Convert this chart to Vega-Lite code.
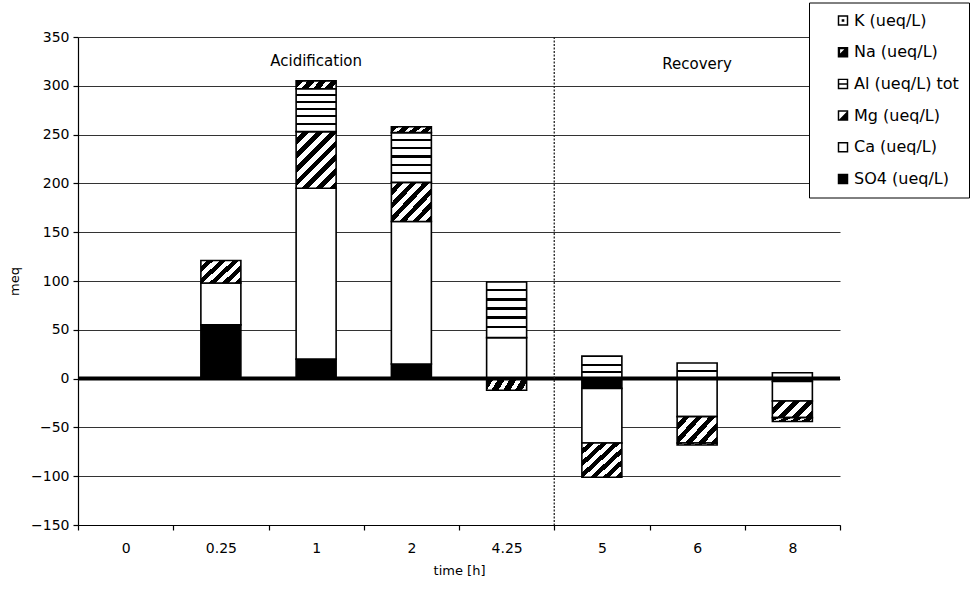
{
  "$schema": "https://vega.github.io/schema/vega-lite/v6.json",
  "width": 762,
  "height": 488,
  "autosize": "none",
  "padding": {"left": 78, "top": 37, "right": 133, "bottom": 65},
  "background": "white",
  "config": {
    "font": "DejaVu Sans",
    "view": {"stroke": null},
    "axis": {"labelFont": "DejaVu Sans", "titleFont": "DejaVu Sans", "labelColor": "black", "titleColor": "black", "titleFontWeight": "normal", "labelFontSize": 14, "titleFontSize": 13, "domainColor": "black", "tickColor": "black", "domainWidth": 1.2, "tickWidth": 1.2}
  },
  "datasets": {
    "ions": [
      {"t": "0.25", "ion": "SO4 (ueq/L)", "v": 55},
      {"t": "0.25", "ion": "Ca (ueq/L)", "v": 43},
      {"t": "0.25", "ion": "Mg (ueq/L)", "v": 23},
      {"t": "1", "ion": "SO4 (ueq/L)", "v": 20},
      {"t": "1", "ion": "Ca (ueq/L)", "v": 175},
      {"t": "1", "ion": "Mg (ueq/L)", "v": 58},
      {"t": "1", "ion": "Al (ueq/L) tot", "v": 44},
      {"t": "1", "ion": "Na (ueq/L)", "v": 8},
      {"t": "2", "ion": "SO4 (ueq/L)", "v": 15},
      {"t": "2", "ion": "Ca (ueq/L)", "v": 146},
      {"t": "2", "ion": "Mg (ueq/L)", "v": 40},
      {"t": "2", "ion": "Al (ueq/L) tot", "v": 51},
      {"t": "2", "ion": "Na (ueq/L)", "v": 6},
      {"t": "4.25", "ion": "Ca (ueq/L)", "v": 42},
      {"t": "4.25", "ion": "Al (ueq/L) tot", "v": 57},
      {"t": "4.25", "ion": "Na (ueq/L)", "v": -12},
      {"t": "5", "ion": "SO4 (ueq/L)", "v": -10},
      {"t": "5", "ion": "Ca (ueq/L)", "v": -56},
      {"t": "5", "ion": "Mg (ueq/L)", "v": -35},
      {"t": "5", "ion": "Al (ueq/L) tot", "v": 23},
      {"t": "6", "ion": "Ca (ueq/L)", "v": -39},
      {"t": "6", "ion": "Mg (ueq/L)", "v": -27},
      {"t": "6", "ion": "Al (ueq/L) tot", "v": 16},
      {"t": "6", "ion": "Na (ueq/L)", "v": -2},
      {"t": "8", "ion": "SO4 (ueq/L)", "v": -3},
      {"t": "8", "ion": "Ca (ueq/L)", "v": -20},
      {"t": "8", "ion": "Mg (ueq/L)", "v": -17},
      {"t": "8", "ion": "Al (ueq/L) tot", "v": 6},
      {"t": "8", "ion": "Na (ueq/L)", "v": -4}
    ],
    "notes": [
      {"t": "1", "y": 325, "label": "Acidification"},
      {"t": "6", "y": 322, "label": "Recovery"}
    ],
    "one": [{"zero": 0, "split": "5"}]
  },
  "layer": [
    {
      "data": {"name": "ions"},
      "transform": [
        {"calculate": "indexof(['SO4 (ueq/L)', 'Ca (ueq/L)', 'Mg (ueq/L)', 'Al (ueq/L) tot', 'Na (ueq/L)', 'K (ueq/L)'], datum.ion)", "as": "stackorder"}
      ],
      "mark": {"type": "bar", "width": {"band": 0.42}, "stroke": "black", "strokeWidth": 1.6},
      "encoding": {
        "x": {
          "field": "t", "type": "ordinal",
          "scale": {"domain": ["0", "0.25", "1", "2", "4.25", "5", "6", "8"], "paddingInner": 0, "paddingOuter": 0},
          "axis": {"title": "time [h]", "labelAngle": 0, "tickBand": "extent", "tickSize": 5, "labelPadding": 11, "titlePadding": 9, "grid": false}
        },
        "y": {
          "field": "v", "type": "quantitative", "stack": "zero",
          "scale": {"domain": [-150, 350], "nice": false},
          "axis": {"title": "meq", "values": [-150, -100, -50, 0, 50, 100, 150, 200, 250, 300, 350], "grid": true, "gridColor": "#333", "gridWidth": 1, "tickSize": 5, "labelPadding": 4, "titlePadding": 9}
        },
        "order": {"field": "stackorder", "type": "quantitative", "sort": "ascending"},
        "fill": {
          "field": "ion", "type": "nominal",
          "scale": {
            "domain": ["SO4 (ueq/L)", "Ca (ueq/L)", "Mg (ueq/L)", "Al (ueq/L) tot", "Na (ueq/L)", "K (ueq/L)"],
            "range": ["black", "white", "#777777", "white", "#222222", "white"]
          },
          "legend": null,
          "condition": [
            {"test": "datum.ion === 'Na (ueq/L)'", "value": {"gradient": "linear", "x1": 0, "y1": 0, "x2": 1.14, "y2": 0.2, "stops": [{"offset": 0, "color": "black"}, {"offset": 0.15, "color": "black"}, {"offset": 0.15, "color": "white"}, {"offset": 0.25, "color": "white"}, {"offset": 0.25, "color": "black"}, {"offset": 0.4, "color": "black"}, {"offset": 0.4, "color": "white"}, {"offset": 0.5, "color": "white"}, {"offset": 0.5, "color": "black"}, {"offset": 0.65, "color": "black"}, {"offset": 0.65, "color": "white"}, {"offset": 0.75, "color": "white"}, {"offset": 0.75, "color": "black"}, {"offset": 0.9, "color": "black"}, {"offset": 0.9, "color": "white"}, {"offset": 1, "color": "white"}]}},
            {"test": "datum.ion === 'Al (ueq/L) tot' && abs(datum.v) >= 40", "value": {"gradient": "linear", "x1": 0, "y1": 0, "x2": 0, "y2": 1, "stops": [{"offset": 0, "color": "white"}, {"offset": 0.12, "color": "white"}, {"offset": 0.12, "color": "black"}, {"offset": 0.1667, "color": "black"}, {"offset": 0.1667, "color": "white"}, {"offset": 0.2867, "color": "white"}, {"offset": 0.2867, "color": "black"}, {"offset": 0.3333, "color": "black"}, {"offset": 0.3333, "color": "white"}, {"offset": 0.4533, "color": "white"}, {"offset": 0.4533, "color": "black"}, {"offset": 0.5, "color": "black"}, {"offset": 0.5, "color": "white"}, {"offset": 0.62, "color": "white"}, {"offset": 0.62, "color": "black"}, {"offset": 0.6667, "color": "black"}, {"offset": 0.6667, "color": "white"}, {"offset": 0.7867, "color": "white"}, {"offset": 0.7867, "color": "black"}, {"offset": 0.8333, "color": "black"}, {"offset": 0.8333, "color": "white"}, {"offset": 1, "color": "white"}]}},
            {"test": "datum.ion === 'Al (ueq/L) tot' && abs(datum.v) >= 20", "value": {"gradient": "linear", "x1": 0, "y1": 0, "x2": 0, "y2": 1, "stops": [{"offset": 0, "color": "white"}, {"offset": 0.36, "color": "white"}, {"offset": 0.36, "color": "black"}, {"offset": 0.43, "color": "black"}, {"offset": 0.43, "color": "white"}, {"offset": 0.68, "color": "white"}, {"offset": 0.68, "color": "black"}, {"offset": 0.75, "color": "black"}, {"offset": 0.75, "color": "white"}, {"offset": 1, "color": "white"}]}},
            {"test": "datum.ion === 'Al (ueq/L) tot' && abs(datum.v) >= 10", "value": {"gradient": "linear", "x1": 0, "y1": 0, "x2": 0, "y2": 1, "stops": [{"offset": 0, "color": "white"}, {"offset": 0.45, "color": "white"}, {"offset": 0.45, "color": "black"}, {"offset": 0.55, "color": "black"}, {"offset": 0.55, "color": "white"}, {"offset": 1, "color": "white"}]}},
            {"test": "datum.ion === 'Mg (ueq/L)' && abs(datum.v) >= 50", "value": {"gradient": "linear", "x1": 0, "y1": 0, "x2": 0.8045, "y2": 1.138, "stops": [{"offset": 0, "color": "white"}, {"offset": 0.0714, "color": "white"}, {"offset": 0.0714, "color": "black"}, {"offset": 0.1429, "color": "black"}, {"offset": 0.1429, "color": "white"}, {"offset": 0.2143, "color": "white"}, {"offset": 0.2143, "color": "black"}, {"offset": 0.2857, "color": "black"}, {"offset": 0.2857, "color": "white"}, {"offset": 0.3571, "color": "white"}, {"offset": 0.3571, "color": "black"}, {"offset": 0.4286, "color": "black"}, {"offset": 0.4286, "color": "white"}, {"offset": 0.5, "color": "white"}, {"offset": 0.5, "color": "black"}, {"offset": 0.5714, "color": "black"}, {"offset": 0.5714, "color": "white"}, {"offset": 0.6429, "color": "white"}, {"offset": 0.6429, "color": "black"}, {"offset": 0.7143, "color": "black"}, {"offset": 0.7143, "color": "white"}, {"offset": 0.7857, "color": "white"}, {"offset": 0.7857, "color": "black"}, {"offset": 0.8571, "color": "black"}, {"offset": 0.8571, "color": "white"}, {"offset": 0.9286, "color": "white"}, {"offset": 0.9286, "color": "black"}, {"offset": 1, "color": "black"}]}},
            {"test": "datum.ion === 'Mg (ueq/L)' && abs(datum.v) >= 30", "value": {"gradient": "linear", "x1": 0, "y1": 0, "x2": 1.037, "y2": 0.959, "stops": [{"offset": 0, "color": "white"}, {"offset": 0.0833, "color": "white"}, {"offset": 0.0833, "color": "black"}, {"offset": 0.1667, "color": "black"}, {"offset": 0.1667, "color": "white"}, {"offset": 0.25, "color": "white"}, {"offset": 0.25, "color": "black"}, {"offset": 0.3333, "color": "black"}, {"offset": 0.3333, "color": "white"}, {"offset": 0.4167, "color": "white"}, {"offset": 0.4167, "color": "black"}, {"offset": 0.5, "color": "black"}, {"offset": 0.5, "color": "white"}, {"offset": 0.5833, "color": "white"}, {"offset": 0.5833, "color": "black"}, {"offset": 0.6667, "color": "black"}, {"offset": 0.6667, "color": "white"}, {"offset": 0.75, "color": "white"}, {"offset": 0.75, "color": "black"}, {"offset": 0.8333, "color": "black"}, {"offset": 0.8333, "color": "white"}, {"offset": 0.9167, "color": "white"}, {"offset": 0.9167, "color": "black"}, {"offset": 1, "color": "black"}]}},
            {"test": "datum.ion === 'Mg (ueq/L)' && abs(datum.v) >= 20", "value": {"gradient": "linear", "x1": 0, "y1": 0, "x2": 1.176, "y2": 0.706, "stops": [{"offset": 0, "color": "white"}, {"offset": 0.1, "color": "white"}, {"offset": 0.1, "color": "black"}, {"offset": 0.2, "color": "black"}, {"offset": 0.2, "color": "white"}, {"offset": 0.3, "color": "white"}, {"offset": 0.3, "color": "black"}, {"offset": 0.4, "color": "black"}, {"offset": 0.4, "color": "white"}, {"offset": 0.5, "color": "white"}, {"offset": 0.5, "color": "black"}, {"offset": 0.6, "color": "black"}, {"offset": 0.6, "color": "white"}, {"offset": 0.7, "color": "white"}, {"offset": 0.7, "color": "black"}, {"offset": 0.8, "color": "black"}, {"offset": 0.8, "color": "white"}, {"offset": 0.9, "color": "white"}, {"offset": 0.9, "color": "black"}, {"offset": 1, "color": "black"}]}},
            {"test": "datum.ion === 'Mg (ueq/L)'", "value": {"gradient": "linear", "x1": 0, "y1": 0, "x2": 1.207, "y2": 0.501, "stops": [{"offset": 0, "color": "white"}, {"offset": 0.125, "color": "white"}, {"offset": 0.125, "color": "black"}, {"offset": 0.25, "color": "black"}, {"offset": 0.25, "color": "white"}, {"offset": 0.375, "color": "white"}, {"offset": 0.375, "color": "black"}, {"offset": 0.5, "color": "black"}, {"offset": 0.5, "color": "white"}, {"offset": 0.625, "color": "white"}, {"offset": 0.625, "color": "black"}, {"offset": 0.75, "color": "black"}, {"offset": 0.75, "color": "white"}, {"offset": 0.875, "color": "white"}, {"offset": 0.875, "color": "black"}, {"offset": 1, "color": "black"}]}}
          ]
        }
      }
    },
    {
      "data": {"name": "ions"},
      "mark": {"type": "point", "filled": true, "size": 0, "color": "black"},
      "encoding": {
        "x": {"field": "t", "type": "ordinal", "scale": {"domain": ["0", "0.25", "1", "2", "4.25", "5", "6", "8"], "paddingInner": 0, "paddingOuter": 0}},
        "y": {"field": "v", "type": "quantitative"},
        "shape": {
          "field": "ion", "type": "nominal",
          "scale": {
            "domain": ["K (ueq/L)", "Na (ueq/L)", "Al (ueq/L) tot", "Mg (ueq/L)", "Ca (ueq/L)", "SO4 (ueq/L)"],
            "range": [
              "M-1,-1H1V1H-1Z M-0.72,-0.72V0.72H0.72V-0.72Z M-0.25,-0.25H0.25V0.25H-0.25Z",
              "M-1,-1H1V1H-1Z M-0.55,-0.55L-0.55,0.25L0.25,-0.55Z",
              "M-1,-1H1V1H-1Z M-0.72,-0.72V0.72H0.72V-0.72Z M-0.72,-0.14H0.72V0.14H-0.72Z",
              "M-1,-1H1V1H-1Z M-0.72,-0.72V0.72H0.72V-0.72Z M0.72,-0.72L0.72,0.72L-0.72,0.72Z",
              "M-1,-1H1V1H-1Z M-0.72,-0.72V0.72H0.72V-0.72Z",
              "M-1,-1H1V1H-1Z"
            ]
          },
          "legend": {
            "title": null, "orient": "none", "legendX": 731, "legendY": -34.5,
            "strokeColor": "black", "fillColor": "white", "padding": 10, "symbolOffset": 16,
            "symbolSize": 110, "symbolOpacity": 1, "symbolFillColor": "black", "symbolStrokeWidth": 0,
            "labelFont": "DejaVu Sans", "labelFontSize": 16, "labelColor": "black", "labelOffset": 3, "rowPadding": 15.7, "labelLimit": 200
          }
        }
      }
    },
    {
      "data": {"name": "one"},
      "mark": {"type": "rule", "color": "black", "strokeWidth": 4},
      "encoding": {"y": {"field": "zero", "type": "quantitative"}}
    },
    {
      "data": {"name": "one"},
      "mark": {"type": "rule", "color": "#222", "strokeWidth": 1.3, "strokeDash": [2, 1.5]},
      "encoding": {"x": {"field": "split", "type": "ordinal", "bandPosition": 0, "scale": {"domain": ["0", "0.25", "1", "2", "4.25", "5", "6", "8"], "paddingInner": 0, "paddingOuter": 0}}}
    },
    {
      "data": {"name": "notes"},
      "mark": {"type": "text", "fontSize": 15, "font": "DejaVu Sans", "color": "black", "align": "center", "baseline": "middle"},
      "encoding": {
        "x": {"field": "t", "type": "ordinal", "scale": {"domain": ["0", "0.25", "1", "2", "4.25", "5", "6", "8"], "paddingInner": 0, "paddingOuter": 0}},
        "y": {"field": "y", "type": "quantitative"},
        "text": {"field": "label"}
      }
    }
  ]
}
